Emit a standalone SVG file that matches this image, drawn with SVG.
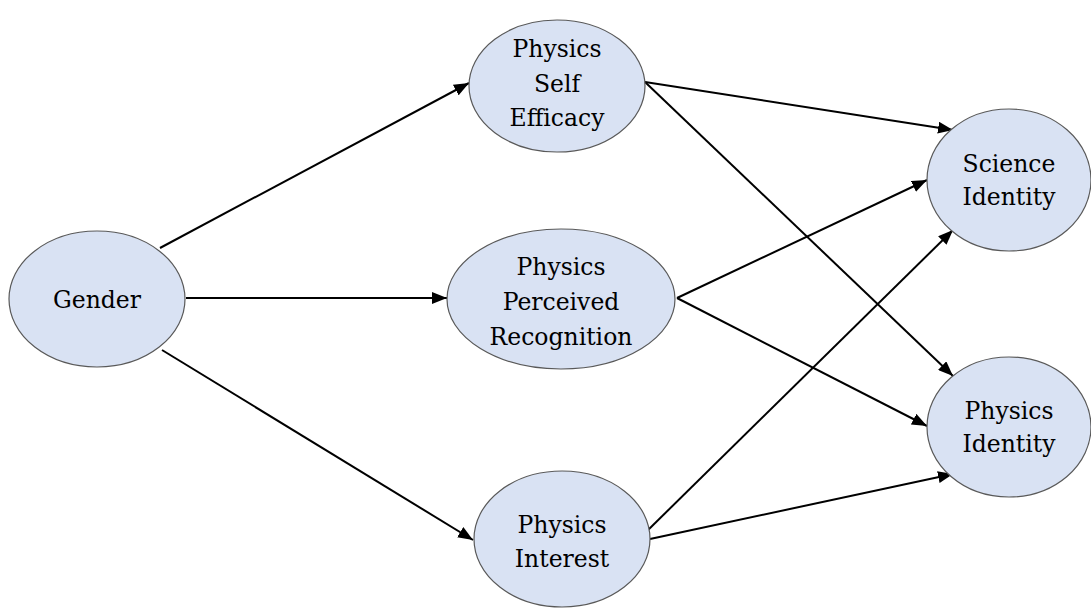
<svg xmlns="http://www.w3.org/2000/svg" width="1091" height="609" viewBox="0 0 1091 609">
<style>
.node ellipse{fill:#d9e2f3;stroke:#595959;stroke-width:1.2}
.node text{font-family:"DejaVu Serif",serif;font-size:23.5px;fill:#000;text-anchor:middle}
.edge{stroke:#000;stroke-width:2;fill:none;marker-end:url(#ah)}
</style>
<defs>
<marker id="ah" markerUnits="userSpaceOnUse" markerWidth="16" markerHeight="12" refX="15" refY="6" orient="auto">
<path d="M0,0 L15,6 L0,12 z" fill="#000"/>
</marker>
</defs>
<rect width="1091" height="609" fill="#fff"/>
<g id="connectors">
<line class="edge" x1="160" y1="248" x2="469" y2="83"/>
<line class="edge" x1="186" y1="298" x2="447" y2="298"/>
<line class="edge" x1="162" y1="350" x2="473" y2="540"/>
<line class="edge" x1="645" y1="82" x2="953" y2="130"/>
<line class="edge" x1="645" y1="82" x2="953" y2="376"/>
<line class="edge" x1="677" y1="298" x2="927" y2="180"/>
<line class="edge" x1="677" y1="298" x2="927" y2="426"/>
<line class="edge" x1="645" y1="533" x2="953" y2="230"/>
<line class="edge" x1="650" y1="539" x2="953" y2="474"/>
</g>
<g id="gender" class="node">
<ellipse cx="97" cy="299" rx="88" ry="68"/>
<text x="97" y="308">Gender</text>
</g>
<g id="pse" class="node">
<ellipse cx="557" cy="86" rx="88" ry="66"/>
<text x="557" y="57">Physics</text>
<text x="557" y="92">Self</text>
<text x="557" y="126">Efficacy</text>
</g>
<g id="ppr" class="node">
<ellipse cx="561" cy="299" rx="114" ry="70"/>
<text x="561" y="275">Physics</text>
<text x="561" y="310">Perceived</text>
<text x="561" y="345">Recognition</text>
</g>
<g id="pi" class="node">
<ellipse cx="562" cy="539" rx="88" ry="68"/>
<text x="562" y="533">Physics</text>
<text x="562" y="567">Interest</text>
</g>
<g id="si" class="node">
<ellipse cx="1009" cy="180" rx="82" ry="71"/>
<text x="1009" y="172">Science</text>
<text x="1009" y="205">Identity</text>
</g>
<g id="phi" class="node">
<ellipse cx="1009" cy="427" rx="82" ry="70"/>
<text x="1009" y="419">Physics</text>
<text x="1009" y="452">Identity</text>
</g>
</svg>
